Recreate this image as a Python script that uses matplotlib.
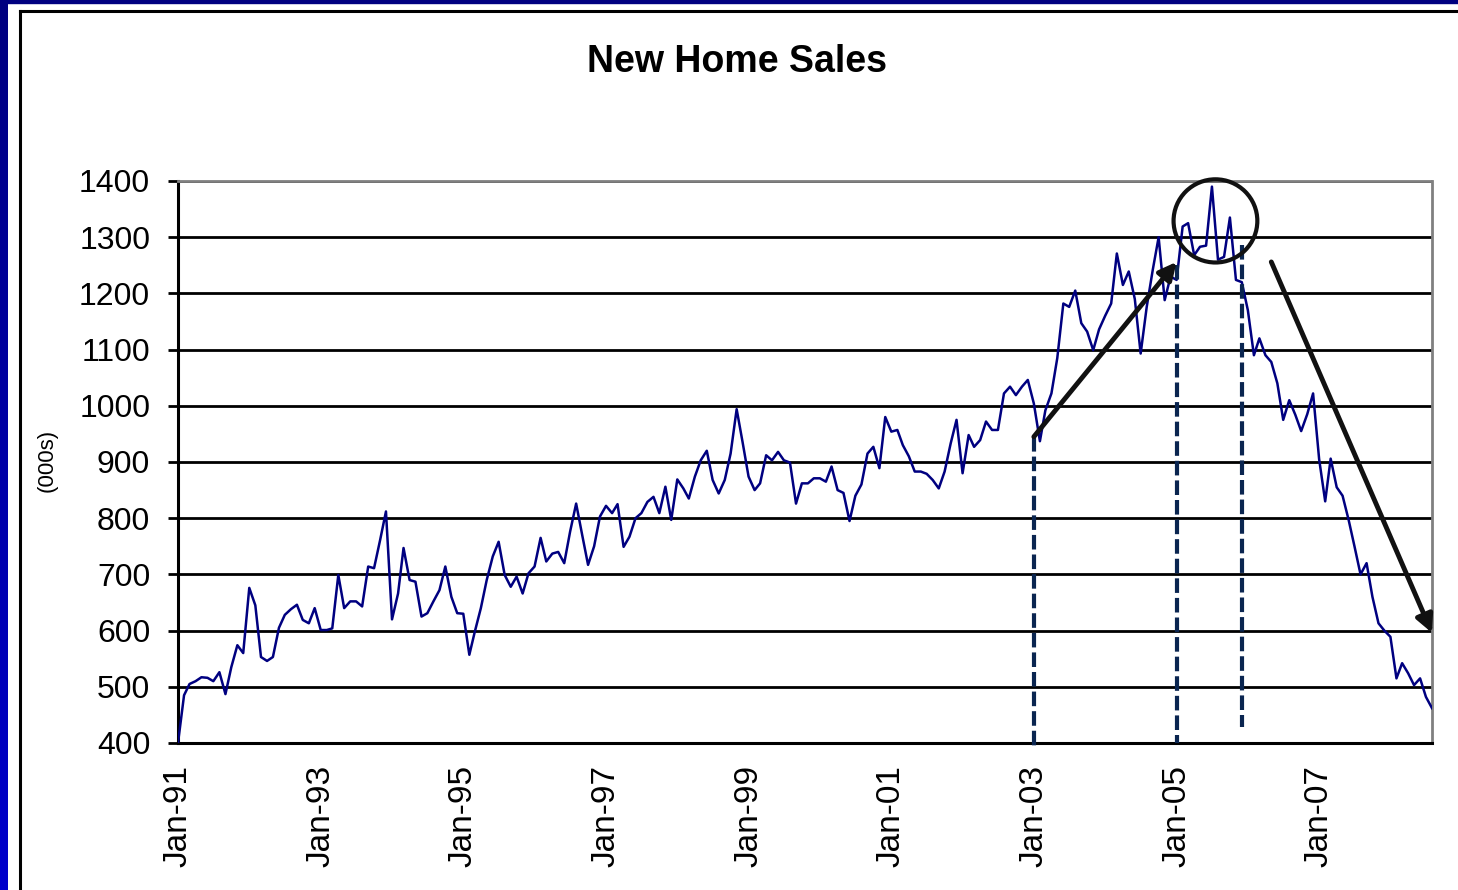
# New Home Sales chart, monthly SAAR (000s), Jan-91 .. Aug-08
import matplotlib
matplotlib.use('Agg')
import matplotlib.pyplot as plt
import matplotlib.dates as mdates
from matplotlib.patches import Ellipse, Rectangle
from matplotlib.lines import Line2D
from matplotlib.colors import LinearSegmentedColormap
import numpy as np
import pandas as pd

plt.rcParams['font.family'] = ['Liberation Sans', 'DejaVu Sans']

# monthly values, one row per year
sales = (
    [400, 485, 505, 510, 517, 516, 510, 526, 487, 535, 574, 560] +      # 1991
    [676, 645, 553, 546, 553, 605, 628, 638, 646, 619, 613, 640] +      # 1992
    [601, 601, 604, 699, 640, 652, 652, 643, 714, 711, 761, 812] +      # 1993
    [620, 666, 747, 690, 687, 625, 631, 652, 672, 714, 660, 631] +      # 1994
    [630, 557, 598, 640, 690, 732, 758, 699, 678, 696, 666, 702] +      # 1995
    [714, 765, 723, 737, 740, 720, 776, 826, 770, 717, 750, 803] +      # 1996
    [822, 809, 825, 749, 767, 800, 809, 829, 838, 809, 856, 797] +      # 1997
    [869, 853, 835, 874, 903, 920, 868, 844, 868, 915, 994, 936] +      # 1998
    [874, 850, 862, 912, 903, 918, 903, 899, 826, 862, 862, 871] +      # 1999
    [871, 865, 892, 850, 845, 795, 840, 860, 915, 927, 889, 980] +      # 2000
    [954, 957, 930, 910, 883, 883, 879, 868, 853, 883, 933, 975] +      # 2001
    [880, 948, 927, 939, 972, 957, 957, 1022, 1034, 1019, 1034, 1046] + # 2002
    [1004, 937, 992, 1022, 1085, 1182, 1176, 1205, 1147, 1132, 1099, 1136] +  # 2003
    [1160, 1182, 1271, 1215, 1239, 1190, 1093, 1176, 1242, 1300, 1188, 1230] +  # 2004
    [1224, 1319, 1325, 1268, 1283, 1285, 1390, 1260, 1265, 1335, 1224, 1220] +  # 2005
    [1170, 1090, 1120, 1090, 1078, 1040, 975, 1010, 984, 955, 985, 1022] +  # 2006
    [905, 830, 906, 855, 840, 797, 750, 700, 720, 660, 613, 600] +      # 2007
    [589, 515, 542, 524, 503, 515, 482, 462]                            # 2008
)
dates = pd.date_range('1991-01-01', periods=len(sales), freq='MS')

tick_dates = pd.to_datetime([f'{y}-01-01' for y in range(1991, 2008, 2)])
tick_labels = [d.strftime('Jan-%y') for d in tick_dates]
y_ticks = list(range(400, 1401, 100))

# annotation marks (dashed verticals, arrows, circle)
vlines = [('2003-01-01', 945, 388), ('2005-01-01', 1250, 400), ('2005-12-01', 1286, 428)]
arrows = [(('2003-01-01', 945), ('2005-01-01', 1256)),
          (('2006-05-01', 1256), ('2008-08-01', 596))]
circle_center = ('2005-07-19', 1329)

W, H = 1458, 890
fig = plt.figure(figsize=(W / 100, H / 100), dpi=100)
fig.patch.set_facecolor('white')

# slide-ish frame
bar = fig.add_axes([0, 0, 7 / W, 1])
bar.imshow(np.linspace(0, 1, 200).reshape(-1, 1),
           cmap=LinearSegmentedColormap.from_list('frame', ['#000080', '#0000cc']),
           aspect='auto')
bar.axis('off')
fig.patches.append(Rectangle((0, 1 - 3 / H), 1, 3 / H, transform=fig.transFigure,
                             color='#000080', zorder=5))
fig.lines.append(Line2D([20 / W, 20 / W], [0, 1 - 11 / H], transform=fig.transFigure,
                        color='black', lw=2.2))
fig.lines.append(Line2D([20 / W, 1], [1 - 11 / H, 1 - 11 / H], transform=fig.transFigure,
                        color='black', lw=2.2))

ax = fig.add_axes([178 / W, 1 - 743 / H, (1432 - 178) / W, (743 - 181) / H])
ax.plot(dates, sales, color='#000080', lw=1.8, zorder=3)

ax.set_xlim(dates[0], dates[-1])
ax.set_ylim(400, 1400)
ax.set_yticks(y_ticks)
ax.set_xticks(tick_dates)
ax.set_xticklabels(tick_labels)
ax.grid(axis='y', color='black', lw=2)
ax.grid(axis='x', visible=False)

for side in ['left', 'bottom']:
    ax.spines[side].set_color('black')
    ax.spines[side].set_linewidth(2.2)
for side in ['top', 'right']:
    ax.spines[side].set_color('#808080')
    ax.spines[side].set_linewidth(2)
    ax.spines[side].set_linestyle((0, (1, 1)))

ax.tick_params(axis='y', length=7, width=2, pad=13, labelsize=23)
ax.tick_params(axis='x', length=0, pad=16, labelsize=24, labelrotation=90)

# dashed verticals
for d, y0, y1 in vlines:
    ax.plot([pd.Timestamp(d)] * 2, [y0, y1], color='#0a2550', lw=3,
            dashes=(3.5, 1.2), clip_on=False, zorder=4)

# arrows
for (d0, v0), (d1, v1) in arrows:
    ax.annotate('', xy=(pd.Timestamp(d1), v1), xytext=(pd.Timestamp(d0), v0),
                arrowprops=dict(arrowstyle='-|>', color='#111111', lw=3.5,
                                mutation_scale=26, shrinkA=0, shrinkB=0),
                annotation_clip=False, zorder=5)

ax.add_patch(Ellipse((mdates.date2num(pd.Timestamp(circle_center[0])), circle_center[1]),
                     width=429, height=148, fill=False, ec='#111111', lw=3,
                     clip_on=False, zorder=5))

fig.text(737 / W, 1 - 62 / H, 'New Home Sales', ha='center', va='center',
         fontsize=27, fontweight='bold')
fig.text(47 / W, 1 - 460 / H, '(000s)', rotation=90, ha='center', va='center',
         fontsize=16)

fig.savefig('out.png', dpi=100)
